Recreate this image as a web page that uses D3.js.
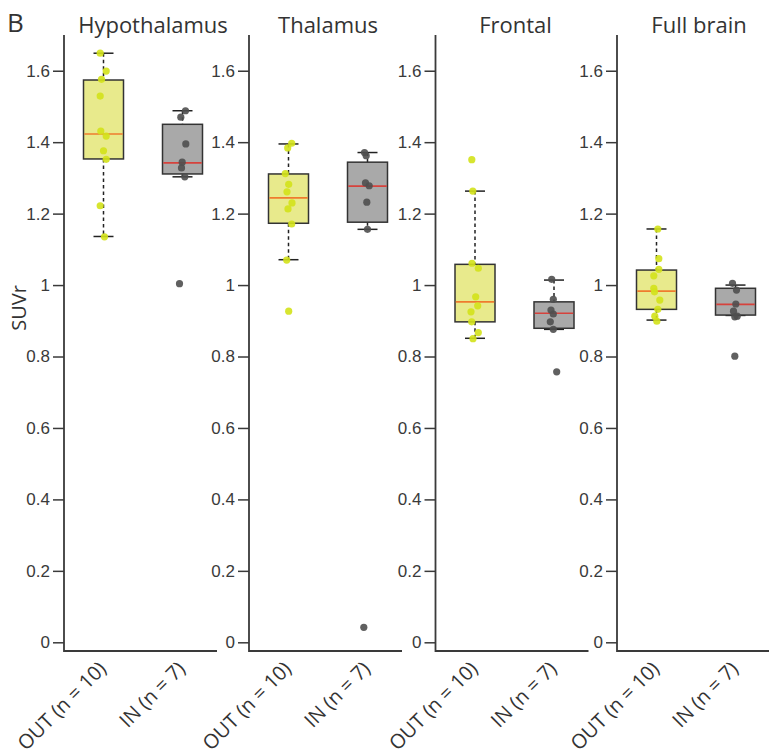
<!DOCTYPE html>
<html>
<head>
    <meta charset="utf-8">
    <title>SUVr by region</title>
    <script src="https://d3js.org/d3.v7.min.js"></script>
    <style>
        body {
            margin: 0;
            background-color: white;
            font-family: "Open Sans", sans-serif;
        }
        svg {
            display: block;
        }
        .axis-y text {
            font-size: 17px;
            fill: #3a3a3a;
        }
        .axis-y line {
            stroke: #3a3a3a;
            stroke-width: 1.5px;
        }
        .frame {
            fill: none;
            stroke: #3a3a3a;
            stroke-width: 1.8px;
        }
        .title {
            font-size: 22px;
            fill: #333;
            text-anchor: middle;
        }
        .xlabel {
            font-size: 20px;
            fill: #333;
            text-anchor: end;
        }
        .box {
            stroke: #333;
            stroke-width: 1.5px;
        }
        .whisker {
            stroke: #222;
            stroke-width: 1.5px;
            stroke-dasharray: 3.5,3;
        }
        .cap {
            stroke: #222;
            stroke-width: 1.5px;
        }
    </style>
</head>
<body>
    <svg width="769" height="755"></svg>

    <script>
        // data
        const regions = ["Hypothalamus", "Thalamus", "Frontal", "Full brain"];
        const groups = ["OUT (n = 10)", "IN (n = 7)"];
        const yTicks = [0, 0.2, 0.4, 0.6, 0.8, 1, 1.2, 1.4, 1.6];

        const outValues = [
            [1.649, 1.599, 1.576, 1.529, 1.431, 1.417, 1.376, 1.352, 1.222, 1.135],
            [1.397, 1.384, 1.312, 1.282, 1.261, 1.230, 1.213, 1.171, 1.070, 0.927],
            [1.351, 1.263, 1.061, 1.047, 0.967, 0.942, 0.925, 0.897, 0.867, 0.850],
            [1.157, 1.074, 1.044, 1.026, 0.991, 0.981, 0.958, 0.932, 0.913, 0.899]
        ];
        const inValues = [
            [1.488, 1.470, 1.395, 1.344, 1.328, 1.303, 1.004],
            [1.371, 1.362, 1.286, 1.278, 1.232, 1.156, 0.042],
            [1.016, 0.960, 0.930, 0.919, 0.897, 0.876, 0.757],
            [1.005, 0.986, 0.947, 0.927, 0.913, 0.911, 0.801]
        ];

        // box stats: [lower whisker, q1, median, q3, upper whisker]
        const outStats = [
            [1.136, 1.353, 1.423, 1.574, 1.649],
            [1.071, 1.173, 1.244, 1.311, 1.395],
            [0.851, 0.897, 0.953, 1.058, 1.263],
            [0.902, 0.932, 0.983, 1.042, 1.157]
        ];
        const inStats = [
            [1.303, 1.311, 1.342, 1.450, 1.488],
            [1.156, 1.176, 1.277, 1.344, 1.371],
            [0.876, 0.879, 0.921, 0.953, 1.014],
            [0.915, 0.916, 0.946, 0.991, 1.000]
        ];

        // horizontal jitter of the dots, as read (px)
        const outJitter = [
            [-3.3, 2.7, -2, -3.3, -2.7, 2.7, 0, 2.7, -3.3, 1],
            [3.2, -0.8, -3.2, 0.2, -1.5, 3.5, -0.5, 3.2, -1.8, 0.2],
            [-3.2, -2.2, -3, 3.3, 0.7, 2.7, -4, -3.3, 3.3, -2],
            [1.3, 2.3, 2.3, -2.7, -2.7, -2, 3.3, 1.3, -1.7, 0.3]
        ];
        const inJitter = [
            [3, -1.7, 3.3, -0.3, -1, 2.3, -3],
            [-3, -1.3, -2, 1.7, -0.7, 0, -3.7],
            [-2.3, -0.7, -3, -0.7, -3.7, -0.7, 2.7],
            [-3, 1, 0.3, -2, 1.7, -0.7, -0.7]
        ];

        // layout
        const panelLeft = [64, 249, 435.5, 617];
        const titleShift = [89, 79, 80, 82];
        const axisBottom = 651;
        const lineLength = 153;
        const boxWidth = 40;
        const capWidth = 20;

        const fills = ["#e8ea8c", "#a9a9a9"];
        const dotColors = ["#d3e21a", "#4f4f4f"];
        const medianColors = ["#ef7b2e", "#d6423c"];

        const svg = d3.select("svg");

        const y = d3.scaleLinear()
                    .domain([0, 1.7])
                    .range([642.3, 35]);

        const x = d3.scalePoint()
                    .domain(groups)
                    .range([0, 158])
                    .padding(0.5);

        // panel label
        svg.append("text")
           .attr("x", 7)
           .attr("y", 32)
           .attr("font-size", "26px")
           .attr("fill", "#333")
           .text("B");

        // y axis title
        svg.append("text")
           .attr("transform", "translate(26,308) rotate(-90)")
           .attr("text-anchor", "middle")
           .attr("font-size", "20px")
           .attr("fill", "#333")
           .text("SUVr");

        regions.forEach((region, r) => {
            const g = svg.append("g").attr("transform", `translate(${panelLeft[r]},0)`);

            // axis ticks
            const axis = g.append("g")
                          .attr("class", "axis-y")
                          .call(d3.axisLeft(y).tickValues(yTicks).tickSize(11).tickPadding(3).tickFormat(d3.format("~g")));
            axis.select(".domain").remove();

            // L shaped frame
            g.append("path")
             .attr("class", "frame")
             .attr("d", `M0,${y(1.7)}V${axisBottom}H${lineLength}`);

            g.append("text")
             .attr("class", "title")
             .attr("x", titleShift[r])
             .attr("y", 33)
             .text(region);

            const sets = [
                { stats: outStats[r], values: outValues[r], jitter: outJitter[r] },
                { stats: inStats[r], values: inValues[r], jitter: inJitter[r] }
            ];

            sets.forEach((s, k) => {
                const cx = x(groups[k]);
                const [lo, q1, med, q3, hi] = s.stats;

                g.append("line")
                 .attr("class", "whisker")
                 .attr("x1", cx).attr("x2", cx)
                 .attr("y1", y(hi)).attr("y2", y(q3));
                g.append("line")
                 .attr("class", "whisker")
                 .attr("x1", cx).attr("x2", cx)
                 .attr("y1", y(q1)).attr("y2", y(lo));

                [lo, hi].forEach(v => {
                    g.append("line")
                     .attr("class", "cap")
                     .attr("x1", cx - capWidth / 2).attr("x2", cx + capWidth / 2)
                     .attr("y1", y(v)).attr("y2", y(v));
                });

                g.append("rect")
                 .attr("class", "box")
                 .attr("x", cx - boxWidth / 2)
                 .attr("y", y(q3))
                 .attr("width", boxWidth)
                 .attr("height", y(q1) - y(q3))
                 .attr("fill", fills[k]);

                g.append("line")
                 .attr("x1", cx - boxWidth / 2 + 0.8).attr("x2", cx + boxWidth / 2 - 0.8)
                 .attr("y1", y(med)).attr("y2", y(med))
                 .attr("stroke", medianColors[k])
                 .attr("stroke-width", 1.6);

                g.selectAll(null)
                 .data(s.values)
                 .enter()
                 .append("circle")
                 .attr("cx", (d, i) => cx + s.jitter[i])
                 .attr("cy", d => y(d))
                 .attr("r", 3.6)
                 .attr("fill", dotColors[k])
                 .attr("fill-opacity", 0.9);

                // rotated category label
                g.append("text")
                 .attr("class", "xlabel")
                 .attr("transform", `translate(${cx + 4},${axisBottom + 19}) rotate(-45)`)
                 .text(groups[k]);
            });
        });
    </script>
</body>
</html>
